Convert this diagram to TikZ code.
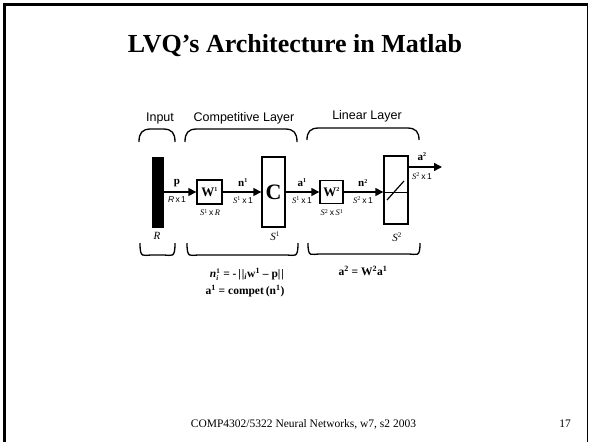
\documentclass[tikz,border=0pt]{standalone}
\usepackage{fontspec}
\setmainfont{Liberation Serif}
\setsansfont{Liberation Sans}
\usetikzlibrary{arrows.meta}
\newcommand\vS[1]{{\rmfamily\itshape S}\textsuperscript{\rmfamily #1}}
\newcommand\xo{\,{\sffamily x\,1}}
\newcommand\sm[1]{\mbox{\bfseries\fontsize{7}{7}\selectfont #1}}
\newcommand\brtop[4]{\draw[brk] (#1,#4) .. controls (#1,#3+4) and (#1+3,#3) .. (#1+12,#3) -- (#2-12,#3) .. controls (#2-3,#3) and (#2,#3+4) .. (#2,#4);}
\tikzset{
  brk/.style={line width=1.3pt},
  boxn/.style={draw, line width=1.4pt, inner sep=0pt},
  arr/.style={line width=1.4pt, -{Triangle[length=8pt,width=8pt]}},
  sig/.style={font=\bfseries\fontsize{11}{12}\selectfont, inner sep=0pt},
  dimn/.style={font=\fontsize{8.5}{9}\selectfont, inner sep=0pt},
  lay/.style={font=\sffamily\fontsize{12.5}{13}\selectfont, inner sep=0pt},
  eqn/.style={font=\bfseries\fontsize{11.5}{12}\selectfont, inner sep=0pt},
  sz/.style={font=\itshape\fontsize{11}{12}\selectfont, inner sep=0pt}
}
\begin{document}
\begin{tikzpicture}[x=1pt,y=-1pt]
\useasboundingbox (0,0) rectangle (589,442);
% slide frame
\draw[line width=2.5pt] (4.5,442) -- (4.5,4.5) -- (588,4.5);
\draw[line width=1pt] (587.5,4.5) -- (587.5,442);
% title and footer
\node[anchor=base, inner sep=0pt, font=\bfseries\fontsize{26}{30}\selectfont] (title) at (295,52) {LVQ’s Architecture in Matlab};
\node[anchor=base, inner sep=0pt, font=\fontsize{11.5}{13}\selectfont] (foot) at (303.5,427) {COMP4302/5322 Neural Networks, w7, s2 2003};
\node[anchor=base, inner sep=0pt, font=\fontsize{11.5}{13}\selectfont] (page) at (565,427) {17};
% layer titles
\node[lay] (tin) at (160,118) {Input};
\node[lay] (tcomp) at (244,118) {Competitive Layer};
\node[lay] (tlin) at (367,116) {Linear Layer};
% brackets top
\brtop{139}{175}{129}{142}
\brtop{185}{297}{129}{142}
\brtop{307}{419}{128}{140}
% brackets bottom
\brtop{140}{175}{255}{243}
\brtop{187}{298}{255}{243}
\brtop{308}{420}{254}{243}
% blocks
\node[fill=black, inner sep=0pt, minimum width=12pt, minimum height=71pt] (bar) at (157.5,192) {};
\node[boxn, minimum width=25pt, minimum height=24pt] (w1) at (209.5,192) {\bfseries\fontsize{13}{13}\selectfont W\textsuperscript{\fontsize{6}{6}\selectfont 1}};
\node[boxn, minimum width=23pt, minimum height=70pt] (c) at (273.5,192) {\bfseries\fontsize{22}{22}\selectfont C};
\node[boxn, minimum width=23pt, minimum height=23pt] (w2) at (331.5,192) {\bfseries\fontsize{13}{13}\selectfont W\textsuperscript{\fontsize{6}{6}\selectfont 2}};
\node[boxn, minimum width=24pt, minimum height=68pt] (lin) at (396,190) {};
% transfer symbol
\draw[line width=0.8pt] (lin.west |- 0,192) -- (lin.east |- 0,192);
\draw[line width=1.2pt] (387,200) -- (404,181);
% connectors
\coordinate (out) at (442,167);
\draw[arr] (bar.east) -- (w1.west);
\draw[arr] (w1.east) -- (c.west);
\draw[arr] (c.east) -- (w2.west);
\draw[arr] (w2.east) -- (w2.east -| lin.west);
\draw[arr] (lin.east |- out) -- (out);
% signal labels
\node[sig] (lp) at (177,183) {p};
\node[dimn] (dp) at (177,200) {{\sffamily\itshape R}\xo};
\node[sig] (ln1) at (243,183) {n\textsuperscript{\fontsize{6}{6}\selectfont 1}};
\node[dimn] (dn1) at (243,200) {\vS{1}\xo};
\node[dimn] (dw1) at (210,212.5) {\vS{1}\,{\sffamily x}\,{\itshape R}};
\node[sig] (la1) at (302,183) {a\textsuperscript{\fontsize{6}{6}\selectfont 1}};
\node[dimn] (da1) at (302,200) {\vS{1}\xo};
\node[dimn] (dw2) at (332,212.5) {\vS{2}\,{\sffamily x}\,\vS{1}};
\node[sig] (ln2) at (363,183) {n\textsuperscript{\fontsize{6}{6}\selectfont 2}};
\node[dimn] (dn2) at (363,200) {\vS{2}\xo};
\node[sig] (la2) at (422,157) {a\textsuperscript{\fontsize{6}{6}\selectfont 2}};
\node[dimn] (da2) at (422,176) {\vS{2}\xo};
% sizes
\node[sz] (sr) at (157,236) {R};
\node[sz] (ss1) at (275,236) {S\textsuperscript{\upshape\fontsize{7}{7}\selectfont 1}};
\node[sz] (ss2) at (397,237) {S\textsuperscript{\upshape\fontsize{7}{7}\selectfont 2}};
% equations
\node[eqn] (eq1) at (247,274) {{\itshape n}$^{\sm{1}}_{\sm{\itshape i}}$ = -\,|\kern1pt|\textsubscript{\itshape i}w\textsuperscript{1} -- p|\kern1pt|};
\node[eqn] (eq2) at (245,291) {a\textsuperscript{1} = compet\,(n\textsuperscript{1})};
\node[eqn] (eq3) at (363,271) {a\textsuperscript{2} = W\textsuperscript{2}a\textsuperscript{1}};
\end{tikzpicture}
\end{document}
